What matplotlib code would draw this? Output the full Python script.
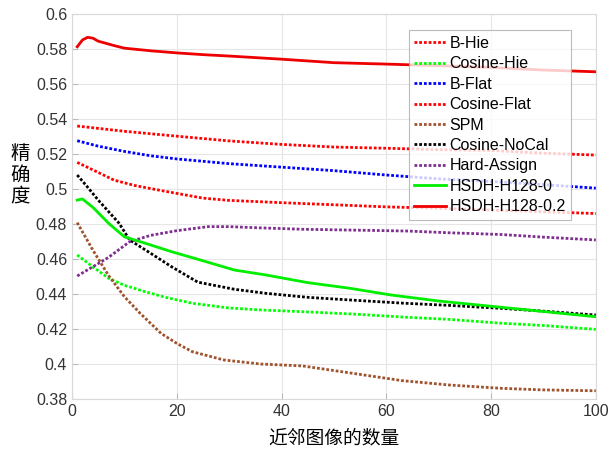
import numpy as np
import matplotlib
matplotlib.use("Agg")
import matplotlib.pyplot as plt

plt.rcParams['font.family'] = ['Liberation Sans', 'Noto Sans CJK SC', 'DejaVu Sans']

# ---------------- data ----------------
b_hie_x = [1, 10, 20, 30, 40, 50, 60, 70, 80, 90, 100]
b_hie_y = [0.536, 0.533, 0.5302, 0.5275, 0.5255, 0.524, 0.5233, 0.5225, 0.522, 0.5205, 0.5194]

cos_hie_x = [1, 4, 7, 10, 14, 18, 23, 30, 36, 44, 54, 64, 72, 82, 90, 100]
cos_hie_y = [0.4623, 0.4555, 0.449, 0.445, 0.4413, 0.438, 0.4347, 0.432, 0.4309, 0.4299,
             0.4285, 0.4267, 0.4255, 0.4233, 0.422, 0.4198]

b_flat_x = [1, 5, 10, 15, 20, 30, 40, 50, 60, 70, 80, 90, 100]
b_flat_y = [0.5276, 0.5245, 0.5215, 0.519, 0.5172, 0.5145, 0.5125, 0.5105, 0.508, 0.5058,
            0.5043, 0.5025, 0.5005]

cos_flat_x = [1, 5, 8, 12, 16, 20, 25, 30, 40, 50, 60, 70, 80, 90, 100]
cos_flat_y = [0.5152, 0.5095, 0.5051, 0.502, 0.4997, 0.4975, 0.4948, 0.4935, 0.4922, 0.491,
              0.4898, 0.489, 0.488, 0.487, 0.486]

spm_x = [1, 4, 7, 10, 13, 17, 20, 23, 29, 36, 44, 54, 63, 72, 82, 90, 100]
spm_y = [0.4808, 0.465, 0.4505, 0.4385, 0.429, 0.4175, 0.4118, 0.407, 0.4023, 0.4, 0.3989,
         0.3945, 0.3905, 0.388, 0.3861, 0.3852, 0.3847]

nocal_x = [1, 3, 5, 9, 11, 15, 19, 24, 31, 37, 45, 53, 63, 72, 82, 90, 100]
nocal_y = [0.508, 0.501, 0.4937, 0.4804, 0.4709, 0.4633, 0.4556, 0.4468, 0.4427, 0.4404,
           0.4381, 0.4366, 0.4348, 0.4335, 0.4318, 0.4302, 0.428]

hard_x = [1, 4, 7, 11, 15, 20, 26, 30, 36, 44, 54, 64, 72, 82, 90, 100]
hard_y = [0.4503, 0.4556, 0.461, 0.4699, 0.4735, 0.4762, 0.4785, 0.4785, 0.4778, 0.477,
          0.4765, 0.476, 0.475, 0.474, 0.4725, 0.4709]

h0_x = [1, 2, 4, 7, 10, 14, 19, 25, 31, 37, 45, 53, 61, 70, 80, 90, 100]
h0_y = [0.4937, 0.4943, 0.4895, 0.4804, 0.4727, 0.469, 0.4642, 0.459, 0.4537, 0.4509,
        0.4465, 0.4433, 0.4394, 0.436, 0.433, 0.43, 0.427]

h02_x = [1, 2, 3, 4, 5, 8, 10, 15, 20, 25, 30, 40, 50, 60, 70, 80, 90, 100]
h02_y = [0.5813, 0.5852, 0.5867, 0.5862, 0.5845, 0.582, 0.5805, 0.579, 0.5778, 0.5768,
         0.576, 0.5742, 0.5722, 0.5714, 0.5705, 0.5695, 0.568, 0.567]

DOT = (0, (1, 0.7))

# label, x, y, colour, style
series = [
    ("B-Hie", b_hie_x, b_hie_y, "#ff0000", DOT),
    ("Cosine-Hie", cos_hie_x, cos_hie_y, "#00ff00", DOT),
    ("B-Flat", b_flat_x, b_flat_y, "#0000ff", DOT),
    ("Cosine-Flat", cos_flat_x, cos_flat_y, "#ff0000", DOT),
    ("SPM", spm_x, spm_y, "#a0522d", DOT),
    ("Cosine-NoCal", nocal_x, nocal_y, "#000000", DOT),
    ("Hard-Assign", hard_x, hard_y, "#7e2f8e", DOT),
    ("HSDH-H128-0", h0_x, h0_y, "#00ee00", "-"),
    ("HSDH-H128-0.2", h02_x, h02_y, "#ee0000", "-"),
]

fig = plt.figure(figsize=(6.08, 4.53), dpi=100)
ax = fig.add_axes([0.1184, 0.1192, 0.8616, 0.8498])

for label, x, y, c, ls in series:
    ax.plot(x, y, color=c, linestyle=ls, lw=2.0, label=label)

ax.set_xlim(0, 100)
ax.set_ylim(0.38, 0.6)
ax.set_xticks(np.arange(0, 101, 20))
yt = np.round(np.arange(0.38, 0.601, 0.02), 2)
ax.set_yticks(yt)
ax.set_yticklabels([f"{v:g}" for v in yt])
ax.grid(True, color="#e6e6e6", lw=0.8)
ax.set_axisbelow(True)
for s in ax.spines.values():
    s.set_color("#d9d9d9")
ax.tick_params(direction="in", length=4, color="#bbbbbb", labelsize=11.5, labelcolor="#333333")

ax.set_xlabel("近邻图像的数量", fontsize=13.5, family=["Noto Sans CJK SC"], labelpad=6)
ax.set_ylabel("精\n确\n度", fontsize=14, family=["Noto Sans CJK SC"], rotation=0,
              va="center", ha="center", linespacing=1.0)
ax.yaxis.set_label_coords(-0.099, 0.582)

leg = ax.legend(loc="upper left", bbox_to_anchor=(0.643, 0.958), fontsize=11.5,
                frameon=True, fancybox=False, handlelength=2.0, handletextpad=0.2,
                labelspacing=0.34, borderpad=0.35, borderaxespad=0)
leg.get_frame().set_edgecolor("#aaaaaa")
leg.get_frame().set_linewidth(0.8)

fig.savefig("out.png", dpi=100)
